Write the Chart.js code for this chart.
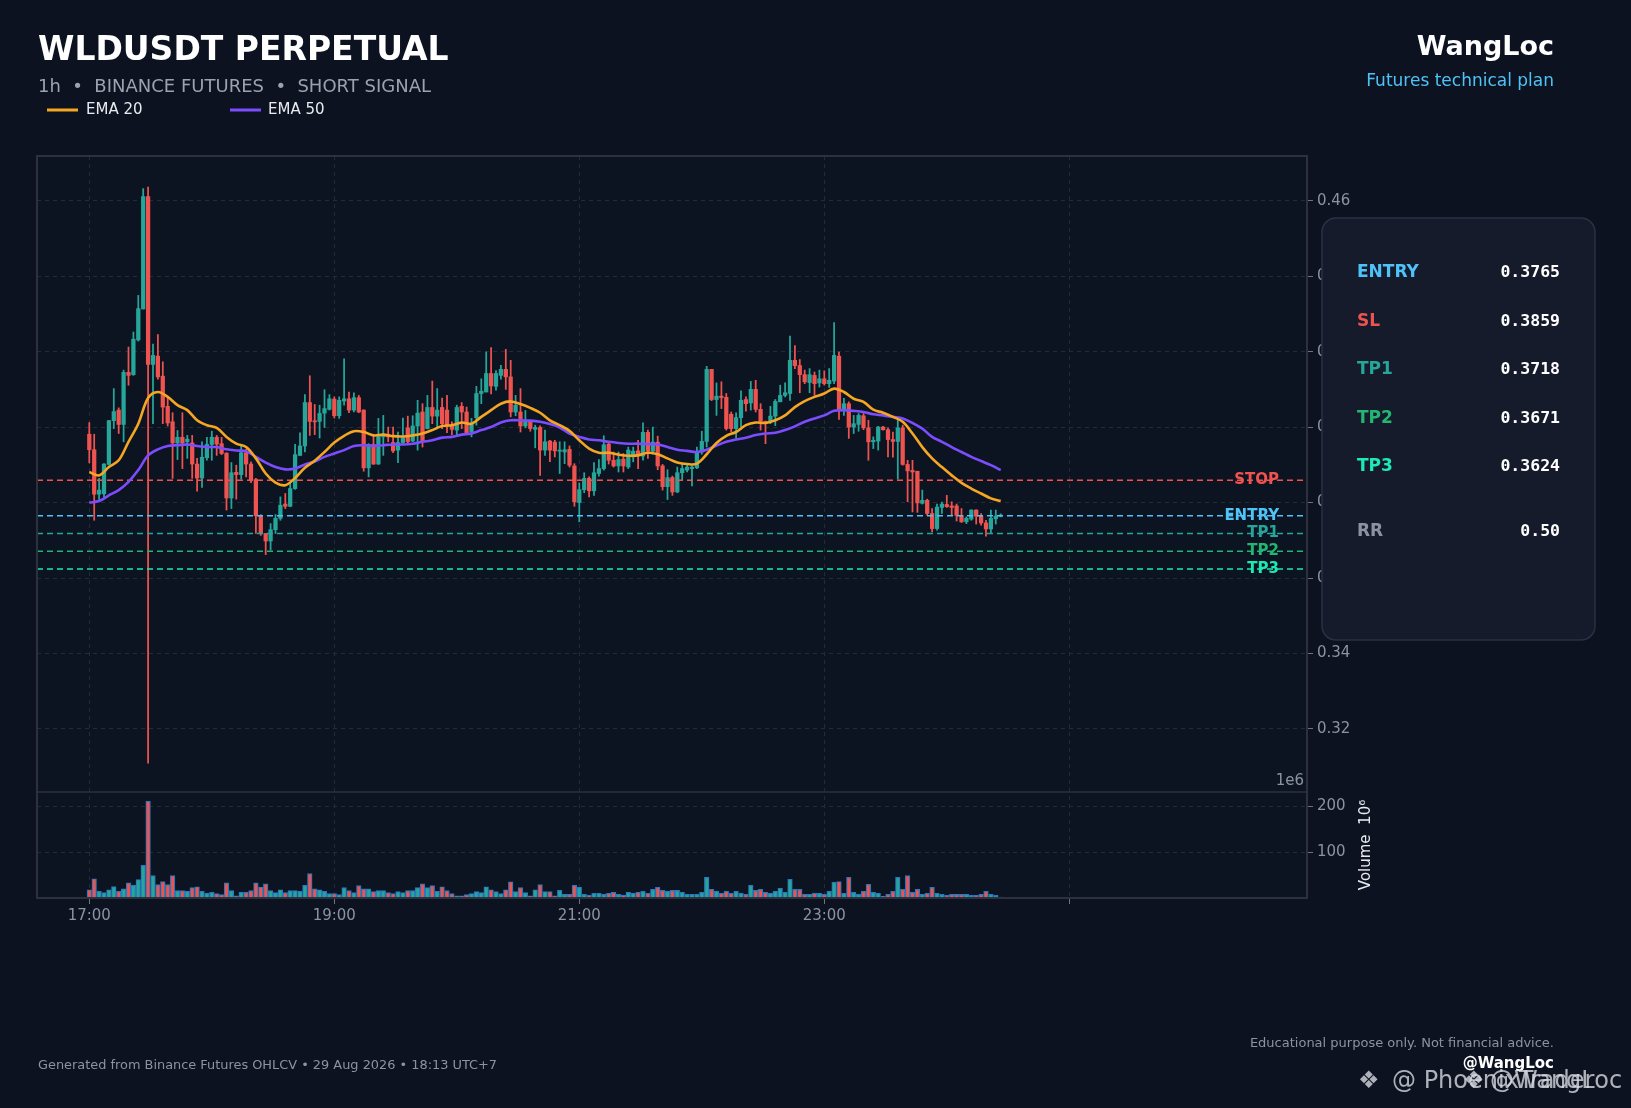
<!DOCTYPE html>
<html><head><meta charset="utf-8">
<script src="https://cdn.jsdelivr.net/npm/chart.js@4.4.1/dist/chart.umd.min.js"></script>
<style>html,body{margin:0;padding:0;background:#0c1220;overflow:hidden}canvas{display:block}</style>
</head><body>
<canvas id="c" width="1631" height="1108"></canvas>
<script>
// ---------- DATA ----------
const opens=[0.3981,0.3940,0.3822,0.3823,0.3901,0.4017,0.4045,0.4007,0.4145,0.4139,0.4231,0.4313,0.4611,0.4166,0.4188,0.4135,0.4055,0.4014,0.3958,0.3973,0.3961,0.3958,0.3902,0.3865,0.3919,0.3954,0.3973,0.3956,0.3931,0.3812,0.3880,0.3874,0.3932,0.3902,0.3861,0.3765,0.3718,0.3698,0.3728,0.3758,0.3796,0.3790,0.3837,0.3925,0.3950,0.4065,0.4016,0.4015,0.4037,0.4047,0.4074,0.4030,0.4069,0.4075,0.4045,0.4078,0.4045,0.3892,0.3954,0.3902,0.3974,0.3980,0.3959,0.3939,0.3959,0.3998,0.3963,0.4003,0.4040,0.3996,0.4052,0.4029,0.4052,0.4045,0.4005,0.3992,0.4055,0.4040,0.3987,0.4025,0.4089,0.4093,0.4142,0.4108,0.4137,0.4153,0.4133,0.4040,0.4040,0.4003,0.4017,0.3994,0.3999,0.3939,0.3963,0.3960,0.3936,0.3934,0.3941,0.3897,0.3800,0.3834,0.3864,0.3831,0.3877,0.3890,0.3955,0.3912,0.3897,0.3915,0.3894,0.3921,0.3937,0.3923,0.3986,0.3936,0.3960,0.3897,0.3842,0.3866,0.3828,0.3879,0.3886,0.3890,0.3892,0.3934,0.3962,0.4153,0.4073,0.4082,0.4079,0.4034,0.3996,0.4025,0.4073,0.4064,0.4100,0.4047,0.4015,0.4015,0.4029,0.4067,0.4084,0.4089,0.4177,0.4163,0.4139,0.4118,0.4137,0.4117,0.4128,0.4115,0.4122,0.4188,0.4045,0.4062,0.4000,0.4007,0.4030,0.3998,0.3961,0.3963,0.4000,0.3993,0.3967,0.3962,0.3998,0.3901,0.3885,0.3883,0.3798,0.3806,0.3771,0.3731,0.3787,0.3795,0.3791,0.3791,0.3766,0.3749,0.3756,0.3780,0.3764,0.3746,0.3730,0.3757,0.3764];
const highs=[0.4012,0.3981,0.3864,0.3903,0.4018,0.4102,0.4051,0.4151,0.4212,0.4252,0.4349,0.4632,0.4636,0.4220,0.4245,0.4173,0.4080,0.4038,0.3991,0.4038,0.3978,0.3978,0.3917,0.3961,0.3973,0.3989,0.3978,0.3973,0.3932,0.3906,0.3899,0.3952,0.3941,0.3908,0.3864,0.3768,0.3718,0.3744,0.3768,0.3815,0.3824,0.3853,0.3954,0.3985,0.4086,0.4136,0.4060,0.4058,0.4099,0.4086,0.4080,0.4080,0.4181,0.4093,0.4091,0.4084,0.4046,0.3956,0.3980,0.4023,0.4031,0.4000,0.4000,0.3987,0.4024,0.4029,0.4030,0.4071,0.4062,0.4084,0.4122,0.4102,0.4077,0.4084,0.4014,0.4058,0.4065,0.4053,0.4023,0.4108,0.4128,0.4199,0.4211,0.4150,0.4164,0.4206,0.4177,0.4084,0.4102,0.4044,0.4018,0.4005,0.4003,0.3992,0.3965,0.3965,0.3961,0.3961,0.3950,0.3903,0.3852,0.3879,0.3868,0.3906,0.3914,0.3977,0.3961,0.3934,0.3934,0.3930,0.3947,0.3947,0.3965,0.4011,0.3992,0.4000,0.3976,0.3901,0.3887,0.3870,0.3894,0.3903,0.3901,0.3897,0.3947,0.3989,0.4161,0.4153,0.4117,0.4120,0.4089,0.4040,0.4038,0.4096,0.4080,0.4121,0.4124,0.4062,0.4016,0.4055,0.4073,0.4111,0.4117,0.4241,0.4216,0.4179,0.4151,0.4155,0.4146,0.4151,0.4149,0.4155,0.4277,0.4199,0.4076,0.4067,0.4031,0.4036,0.4036,0.4018,0.3974,0.4002,0.4002,0.3998,0.3987,0.4018,0.4005,0.3912,0.3912,0.3883,0.3833,0.3809,0.3784,0.3796,0.3801,0.3819,0.3802,0.3796,0.3784,0.3762,0.3781,0.3781,0.3771,0.3753,0.3780,0.3780,0.3770];
const lows=[0.3905,0.3753,0.3806,0.3815,0.3899,0.3996,0.3983,0.3961,0.4111,0.4137,0.4228,0.4313,0.3109,0.4009,0.4127,0.4009,0.4003,0.3864,0.3914,0.3890,0.3917,0.3864,0.3830,0.3840,0.3912,0.3912,0.3925,0.3927,0.3780,0.3784,0.3809,0.3862,0.3868,0.3853,0.3718,0.3713,0.3662,0.3674,0.3718,0.3753,0.3784,0.3789,0.3835,0.3924,0.3934,0.3978,0.3980,0.3971,0.3999,0.4045,0.4024,0.4023,0.4058,0.4038,0.4040,0.4038,0.3883,0.3868,0.3901,0.3901,0.3925,0.3961,0.3932,0.3906,0.3956,0.3956,0.3961,0.3939,0.3947,0.3995,0.4009,0.3996,0.3996,0.3985,0.3980,0.3978,0.3996,0.3983,0.3974,0.4005,0.4062,0.4093,0.4088,0.4098,0.4127,0.4100,0.4027,0.4030,0.3987,0.3998,0.3989,0.3945,0.3872,0.3925,0.3908,0.3921,0.3877,0.3903,0.3894,0.3790,0.3749,0.3826,0.3815,0.3819,0.3870,0.3886,0.3902,0.3894,0.3881,0.3881,0.3890,0.3908,0.3890,0.3912,0.3917,0.3928,0.3887,0.3833,0.3808,0.3819,0.3826,0.3859,0.3881,0.3844,0.3890,0.3928,0.3947,0.4070,0.4031,0.4049,0.3992,0.3987,0.3970,0.4000,0.4042,0.4045,0.4040,0.3992,0.3956,0.4009,0.4004,0.4067,0.4080,0.4071,0.4155,0.4091,0.4115,0.4091,0.4084,0.4106,0.4111,0.4105,0.4115,0.4020,0.4031,0.3970,0.3983,0.3989,0.3993,0.3912,0.3943,0.3939,0.3992,0.3921,0.3920,0.3862,0.3899,0.3802,0.3775,0.3774,0.3796,0.3766,0.3722,0.3727,0.3771,0.3787,0.3766,0.3751,0.3747,0.3744,0.3753,0.3743,0.3740,0.3711,0.3718,0.3743,0.3762];
const closes=[0.3940,0.3822,0.3833,0.3902,0.4017,0.4041,0.4007,0.4145,0.4137,0.4233,0.4314,0.4611,0.4166,0.4190,0.4133,0.4053,0.4011,0.3958,0.3973,0.3958,0.3968,0.3902,0.3865,0.3920,0.3954,0.3973,0.3955,0.3930,0.3812,0.3879,0.3874,0.3932,0.3902,0.3859,0.3765,0.3718,0.3698,0.3728,0.3758,0.3793,0.3790,0.3837,0.3927,0.3950,0.4065,0.4015,0.4014,0.4036,0.4049,0.4075,0.4030,0.4071,0.4075,0.4045,0.4078,0.4040,0.3892,0.3954,0.3902,0.3980,0.3980,0.3974,0.3937,0.3959,0.3972,0.3961,0.4003,0.4037,0.3962,0.4052,0.4029,0.4045,0.4009,0.4005,0.3994,0.4052,0.4040,0.3985,0.4009,0.4089,0.4095,0.4142,0.4109,0.4142,0.4153,0.4133,0.4040,0.4058,0.4003,0.4015,0.3996,0.3999,0.3939,0.3961,0.3939,0.3937,0.3939,0.3940,0.3899,0.3802,0.3834,0.3864,0.3831,0.3879,0.3890,0.3953,0.3912,0.3897,0.3914,0.3897,0.3939,0.3936,0.3925,0.3986,0.3936,0.3960,0.3897,0.3842,0.3866,0.3828,0.3879,0.3890,0.3894,0.3894,0.3934,0.3962,0.4153,0.4073,0.4082,0.4078,0.3996,0.3996,0.4025,0.4071,0.4062,0.4100,0.4047,0.4015,0.4009,0.4029,0.4068,0.4084,0.4091,0.4177,0.4163,0.4139,0.4120,0.4139,0.4115,0.4128,0.4115,0.4124,0.4190,0.4045,0.4062,0.4000,0.4009,0.4031,0.3998,0.3961,0.3965,0.4000,0.3993,0.3967,0.3962,0.3998,0.3901,0.3884,0.3881,0.3799,0.3806,0.3771,0.3731,0.3788,0.3796,0.3789,0.3787,0.3766,0.3749,0.3758,0.3780,0.3764,0.3746,0.3730,0.3758,0.3764,0.3766];
// volume in millions
const volumes=[18,42,14.5,11.6,18,25,14.5,20,33,27.5,40,71,211,49,29,36,29,49,16,16,14.5,22.5,24.6,14.5,10,12.3,9.4,7.2,33,16,5,12.3,12.3,16,33,24,31,16,11.6,18,11.6,16,16,14.5,27.5,53,20,18,14.5,9.4,9.4,7.2,22.5,16,11.6,27,20,20,13.8,16,16,11.6,9.4,13.8,11.6,16,16,22.5,31,22.5,27,14.5,24.6,16,9.4,5,5,7.2,9.4,13.8,11.6,24.6,18,13.8,9.4,18,35.5,13.8,22.5,11.6,5,18,29,13.8,13.8,5,16.7,8,8,27.5,23,8,6.5,10,10,8,10,12.3,8,6.5,12.3,10,12.3,14.5,10,19,23,16.7,14.5,16.7,16.7,12.3,8,8,8,12.3,45,19,14.5,10,14.5,10,14.5,10,8,27.5,16.7,19,12.3,10,14.5,21,12.3,40.6,19,19,8,8,10,10,8,14.5,34,36,10,45,12.3,8,14.5,29.7,12.3,10,3.6,8,14.5,45,19,49,12.3,19,8,10,23,10,8,5.8,8,8,8,8,5.8,5.8,8,14.5,8,5.8,2.2];
// EMA values at every second candle
const emaIdx=[0,2,4,6,8,10,12,14,16,18,20,22,24,26,28,30,32,34,36,38,40,42,44,46,48,50,52,54,56,58,60,62,64,66,68,70,72,74,76,78,80,82,84,86,88,90,92,94,96,98,100,102,104,106,108,110,112,114,116,118,120,122,124,126,128,130,132,134,136,138,140,142,144,146,148,150,152,154,156,158,160,162,164,166,168,170,172,174,176,178,180,182,184,186];
const ema20=[0.3881,0.3872,0.3894,0.3912,0.3961,0.4009,0.4077,0.4093,0.4080,0.4058,0.4045,0.4018,0.4005,0.3998,0.3974,0.3956,0.3947,0.3917,0.3877,0.3853,0.3846,0.3865,0.3892,0.3911,0.3934,0.3959,0.3977,0.3989,0.3987,0.3978,0.3980,0.3976,0.3975,0.3978,0.3983,0.3992,0.4003,0.4005,0.4012,0.4009,0.4027,0.4045,0.4062,0.4068,0.4061,0.4051,0.4038,0.4018,0.4005,0.3990,0.3965,0.3943,0.3932,0.3932,0.3927,0.3924,0.3925,0.3932,0.3928,0.3917,0.3906,0.3902,0.3903,0.3928,0.3958,0.3977,0.3987,0.4005,0.4012,0.4011,0.4018,0.4031,0.4053,0.4069,0.4080,0.4089,0.4102,0.4093,0.4075,0.4067,0.4046,0.4038,0.4027,0.4014,0.3983,0.3947,0.3917,0.3894,0.3872,0.3852,0.3837,0.3824,0.3811,0.3804];
const ema50=[0.3800,0.3804,0.3819,0.3833,0.3855,0.3886,0.3925,0.3941,0.3950,0.3952,0.3954,0.3950,0.3947,0.3947,0.3941,0.3938,0.3936,0.3921,0.3906,0.3894,0.3888,0.3890,0.3901,0.3909,0.3921,0.3930,0.3939,0.3950,0.3952,0.3950,0.3952,0.3954,0.3954,0.3956,0.3961,0.3965,0.3972,0.3974,0.3980,0.3983,0.3992,0.4000,0.4012,0.4018,0.4018,0.4017,0.4014,0.4008,0.3999,0.3983,0.3974,0.3967,0.3965,0.3961,0.3958,0.3956,0.3956,0.3955,0.3954,0.3947,0.3940,0.3937,0.3934,0.3940,0.3951,0.3961,0.3967,0.3972,0.3979,0.3983,0.3985,0.3992,0.4002,0.4014,0.4023,0.4031,0.4043,0.4045,0.4043,0.4040,0.4034,0.4031,0.4027,0.4023,0.4011,0.3996,0.3974,0.3961,0.3947,0.3934,0.3921,0.3910,0.3899,0.3886];
const timeTickPos=[0,50,100,150,200];
const timeTickLabels=['17:00','19:00','21:00','23:00',''];
const priceTicks=[0.32,0.34,0.36,0.38,0.40,0.42,0.44,0.46];
const volTicks=[100,200];
const levelNames=['STOP','ENTRY','TP1','TP2','TP3'];
const levelValues=[0.3859,0.3765,0.3718,0.3671,0.3624];
const panelLabels=['ENTRY','SL','TP1','TP2','TP3','RR'];
const panelValues=['0.3765','0.3859','0.3718','0.3671','0.3624','0.50'];

// ---------- STYLE ----------
const UP='#26a69a', DN='#ef5350';
const levelColors=['#ef5350','#4fc3f7','#26a69a','#22b573','#1de9b6'];
const panelColors=['#4fc3f7','#ef5350','#26a69a','#22b573','#1de9b6','#8b93a3'];
const X_MIN=-10.673, X_MAX=248.51;
const GRID='#232a38', TXT='#8b93a3';

Chart.defaults.font.family="'DejaVu Sans', sans-serif";
const idx=opens.map((_,i)=>i);
const col=idx.map(i=>closes[i]>=opens[i]?UP:DN);

const overlay={
  id:'overlay',
  beforeDraw(chart){
    const c=chart.ctx,a=chart.chartArea;
    c.save();
    c.fillStyle='#0c1220';c.fillRect(0,0,chart.width,chart.height);
    c.fillStyle='#0d1421';c.fillRect(a.left,a.top,a.right-a.left,a.bottom-a.top);
    c.restore();
  },
  afterDraw(chart){
    const c=chart.ctx,a=chart.chartArea,yp=chart.scales.yp,yv=chart.scales.yv;
    c.save();
    // frame
    c.strokeStyle='#2b313d';c.lineWidth=2;
    c.strokeRect(a.left,a.top,a.right-a.left,a.bottom-a.top);
    c.lineWidth=1.5;c.beginPath();c.moveTo(a.left,yp.bottom);c.lineTo(a.right,yp.bottom);c.stroke();
    // level labels
    c.font="bold 15px 'DejaVu Sans'";c.textAlign='right';c.textBaseline='middle';
    levelNames.forEach((n,k)=>{c.fillStyle=levelColors[k];c.fillText(n,a.right-28,yp.getPixelForValue(levelValues[k]));});
    // 1e6 offset text and volume title
    c.font="15px 'DejaVu Sans'";c.fillStyle=TXT;c.textAlign='right';
    c.fillText('1e6',a.right-3,yp.bottom-11);
    c.save();c.translate(1366,(yv.top+yv.bottom)/2);c.rotate(-Math.PI/2);
    c.fillStyle='#e8eaee';c.textAlign='center';c.font="15px 'DejaVu Sans'";
    c.fillText('Volume  10\u2076',0,0);c.restore();
    // header
    c.textAlign='left';c.textBaseline='middle';
    c.fillStyle='#ffffff';c.font="bold 33px 'DejaVu Sans'";c.fillText('WLDUSDT PERPETUAL',38,51);
    c.fillStyle='#9aa3b2';c.font="18px 'DejaVu Sans'";c.fillText('1h  \u2022  BINANCE FUTURES  \u2022  SHORT SIGNAL',38,87);
    c.lineWidth=3;
    c.strokeStyle='#f5a623';c.beginPath();c.moveTo(47,110);c.lineTo(78,110);c.stroke();
    c.strokeStyle='#7c4dff';c.beginPath();c.moveTo(230,110);c.lineTo(261,110);c.stroke();
    c.fillStyle='#e8eaee';c.font="15px 'DejaVu Sans'";
    c.fillText('EMA 20',86,110);c.fillText('EMA 50',268,110);
    c.textAlign='right';
    c.fillStyle='#ffffff';c.font="bold 27px 'DejaVu Sans'";c.fillText('WangLoc',1554,48);
    c.fillStyle='#4fc3f7';c.font="17px 'DejaVu Sans'";c.fillText('Futures technical plan',1554,82);
    // info panel
    c.beginPath();c.roundRect(1322,218,273,422,14);
    c.fillStyle='#151b2b';c.fill();c.strokeStyle='#2a3142';c.lineWidth=1.5;c.stroke();
    const rowY=[273,322,370,419,467,532];
    panelLabels.forEach((l,k)=>{
      c.textAlign='left';c.fillStyle=panelColors[k];c.font="bold 17px 'DejaVu Sans'";c.fillText(l,1357,rowY[k]);
      c.textAlign='right';c.fillStyle='#ffffff';c.font="bold 16.5px 'DejaVu Sans Mono'";c.fillText(panelValues[k],1560,rowY[k]);
    });
    // footer
    c.textAlign='left';c.fillStyle=TXT;c.font="12.9px 'DejaVu Sans'";
    c.fillText('Generated from Binance Futures OHLCV \u2022 29 Aug 2026 \u2022 18:13 UTC+7',38,1066);
    c.textAlign='right';c.font="13px 'DejaVu Sans'";
    c.fillText('Educational purpose only. Not financial advice.',1554,1044);
    c.fillStyle='#ffffff';c.font="bold 15px 'DejaVu Sans'";c.fillText('@WangLoc',1554,1064);
    // watermark
    c.textAlign='left';c.fillStyle='rgba(215,218,224,0.8)';c.font="24px 'DejaVu Sans'";
    c.fillText('\u2756',1358,1082);c.fillText('@ PhoenixTrader',1392,1082);
    c.fillText('\u2756',1463,1082);c.fillText('@WangLoc',1490,1082);
    c.restore();
  }
};

const datasets=[
  {type:'line',data:emaIdx.map((x,k)=>({x,y:ema20[k]})),borderColor:'#f5a623',borderWidth:2.6,pointRadius:0,tension:0.35,yAxisID:'yp',order:0},
  {type:'line',data:emaIdx.map((x,k)=>({x,y:ema50[k]})),borderColor:'#7c4dff',borderWidth:2.6,pointRadius:0,tension:0.35,yAxisID:'yp',order:0},
  ...levelValues.map((v,k)=>({type:'line',data:[{x:X_MIN,y:v},{x:X_MAX,y:v}],borderColor:levelColors[k],borderWidth:1.6,borderDash:[6,4],pointRadius:0,yAxisID:'yp',order:1})),
  {type:'bar',data:idx.map(i=>({x:i,y:[opens[i],closes[i]]})),backgroundColor:col,barThickness:3.6,minBarLength:1,grouped:false,yAxisID:'yp',order:2},
  {type:'bar',data:idx.map(i=>({x:i,y:[lows[i],highs[i]]})),backgroundColor:col,barThickness:1.1,grouped:false,yAxisID:'yp',order:3},
  {type:'bar',data:idx.map(i=>({x:i,y:volumes[i]})),backgroundColor:col,borderColor:'#2a78bd',borderWidth:1.2,barThickness:4.6,grouped:false,yAxisID:'yv',order:4}
];

new Chart(document.getElementById('c'),{
  type:'bar',
  data:{datasets},
  options:{
    responsive:false,animation:false,
    layout:{padding:{left:37,top:156,right:264,bottom:170}},
    plugins:{legend:{display:false},tooltip:{enabled:false}},
    scales:{
      x:{type:'linear',min:X_MIN,max:X_MAX,offset:false,position:'bottom',
        afterBuildTicks:s=>{s.ticks=timeTickPos.map(v=>({value:v}));},
        afterFit:s=>{s.height=40;},
        ticks:{callback:v=>{const k=timeTickPos.indexOf(v);return k>=0?timeTickLabels[k]:'';},color:TXT,font:{size:15},padding:3,maxRotation:0,autoSkip:false},
        grid:{color:GRID,lineWidth:1,offset:false,drawTicks:true,tickLength:6,tickColor:'#6b7383'},
        border:{display:false,dash:[4,4]}},
      yp:{type:'linear',position:'right',stack:'main',stackWeight:6,min:0.30328,max:0.47185,
        afterBuildTicks:s=>{s.ticks=priceTicks.map(v=>({value:v}));},
        afterFit:s=>{s.width=60;},
        ticks:{callback:v=>v.toFixed(2),color:TXT,font:{size:15},padding:4},
        grid:{color:GRID,lineWidth:1,drawTicks:true,tickLength:6,tickColor:'#6b7383'},
        border:{display:false,dash:[4,4]}},
      yv:{type:'linear',position:'right',stack:'main',stackWeight:1,min:0,max:231,
        afterBuildTicks:s=>{s.ticks=volTicks.map(v=>({value:v}));},
        afterFit:s=>{s.width=60;},
        ticks:{callback:v=>String(v),color:TXT,font:{size:15},padding:4},
        grid:{color:GRID,lineWidth:1,drawTicks:true,tickLength:6,tickColor:'#6b7383'},
        border:{display:false,dash:[4,4]}}
    }
  },
  plugins:[overlay]
});
</script>
</body></html>
